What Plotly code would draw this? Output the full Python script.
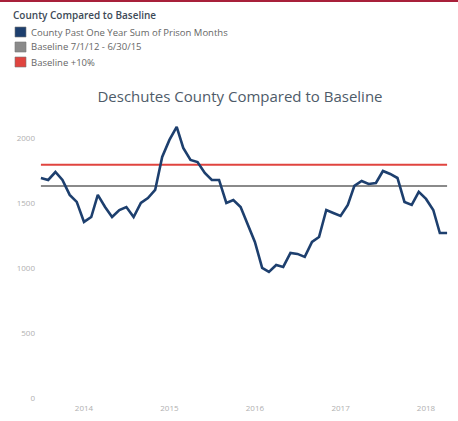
import pandas as pd
import plotly.graph_objects as go

# monthly points, Jul 2013 - Apr 2018
months = pd.date_range("2013-07-01", periods=58, freq="MS")
county_months = [
    1692, 1677, 1738, 1677, 1562, 1508, 1354, 1392, 1562, 1469,
    1392, 1446, 1469, 1392, 1500, 1538, 1600, 1854, 1985, 2085,
    1923, 1831, 1815, 1731, 1677, 1677, 1500, 1523, 1469, 1338,
    1200, 1000, 969, 1023, 1008, 1115, 1108, 1085, 1200, 1238,
    1446, 1423, 1400, 1485, 1631, 1669, 1646, 1654, 1746, 1723,
    1692, 1508, 1485, 1585, 1531, 1446, 1269, 1269,
]
baseline = 1630
baseline_plus10 = 1793
legend_title = "County Compared to Baseline"
legend_names = [
    "County Past One Year Sum of Prison Months",
    "Baseline 7/1/12 - 6/30/15",
    "Baseline +10%",
]
colors = ["#1d3f6e", "#8a8a8a", "#e0443f"]
year_ticks = ["2014-01-01", "2015-01-01", "2016-01-01", "2017-01-01", "2018-01-01"]
year_labels = ["2014", "2015", "2016", "2017", "2018"]

W, H = 458, 421
L, R, T, B = 36, 6, 110, 19


def px(x):  # pixel x -> paper
    return (x - L) / (W - L - R)


def py(y):  # pixel y -> paper
    return (H - B - y) / (H - T - B)


fig = go.Figure()

# reference lines first, county line on top
fig.add_trace(go.Scatter(x=months, y=[baseline] * len(months), mode="lines",
                         line=dict(color=colors[1], width=2), hoverinfo="skip"))
fig.add_trace(go.Scatter(x=months, y=[baseline_plus10] * len(months), mode="lines",
                         line=dict(color=colors[2], width=2), hoverinfo="skip"))
fig.add_trace(go.Scatter(x=months, y=county_months, mode="lines",
                         line=dict(color=colors[0], width=2.6)))

# hand-built legend (squares + text)
shapes = [dict(type="rect", xref="paper", yref="paper", x0=px(-5), x1=px(W + 5),
               y0=py(2), y1=py(-1), fillcolor="#a8203a", line=dict(width=0))]
annotations = [dict(text=legend_title, xref="paper", yref="paper", x=px(11), y=py(15),
                    xanchor="left", yanchor="middle", showarrow=False,
                    font=dict(size=10, color="#3d4a57", family="Open Sans SemiBold, Open Sans"))]
for i, (name, c) in enumerate(zip(legend_names, colors)):
    cy = 32 + i * 15
    shapes.append(dict(type="rect", xref="paper", yref="paper",
                       x0=px(15), x1=px(26), y0=py(cy + 5), y1=py(cy - 5),
                       fillcolor=c, line=dict(color="#777", width=0.6)))
    annotations.append(dict(text=name, xref="paper", yref="paper", x=px(29), y=py(cy),
                            xanchor="left", yanchor="middle", showarrow=False,
                            font=dict(size=9.5, color="#666")))

fig.update_layout(
    width=W, height=H,
    margin=dict(l=L, r=R, t=T, b=B),
    showlegend=False,
    paper_bgcolor="white", plot_bgcolor="white",
    font=dict(family="Open Sans", color="#555"),
    title=dict(text="Deschutes County Compared to Baseline",
               x=240 / W, xanchor="center", y=1 - 97 / H, yanchor="middle",
               font=dict(size=15, color="#4e5b69")),
    xaxis=dict(range=["2013-06-10", "2018-04-22"], showgrid=False, zeroline=False,
               tickvals=year_ticks, ticktext=year_labels, ticks="", automargin=False,
               tickfont=dict(size=8, color="#b0b0b0"), showline=False),
    yaxis=dict(range=[-31, 2215], showgrid=False, zeroline=False, automargin=False,
               tickvals=[0, 500, 1000, 1500, 2000], ticks="",
               tickfont=dict(size=8, color="#b0b0b0"), showline=False),
    shapes=shapes,
    annotations=annotations,
)

# drop the default page margin so the figure sits at the window's corner
fig.write_html("out.html", config={"displayModeBar": False},
               post_script="document.body.style.margin='0';")
